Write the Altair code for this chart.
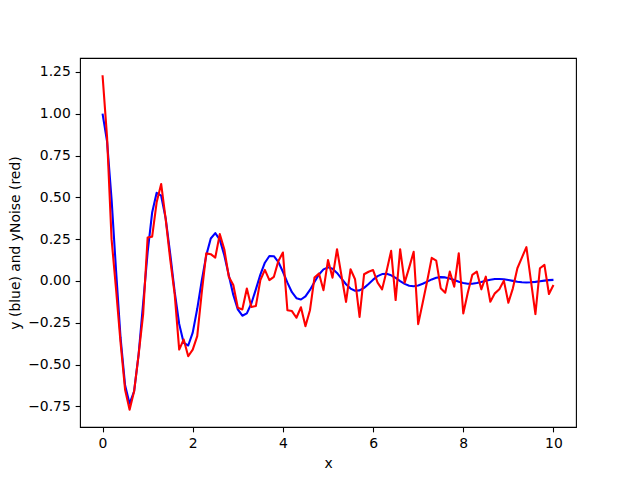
import altair as alt
import pandas as pd

x_values = [
    0.0, 0.1, 0.2, 0.3, 0.4, 0.5, 0.6, 0.7, 0.8, 0.9,
    1.0, 1.1, 1.2, 1.3, 1.4, 1.5, 1.6, 1.7, 1.8, 1.9,
    2.0, 2.1, 2.2, 2.3, 2.4, 2.5, 2.6, 2.7, 2.8, 2.9,
    3.0, 3.1, 3.2, 3.3, 3.4, 3.5, 3.6, 3.7, 3.8, 3.9,
    4.0, 4.1, 4.2, 4.3, 4.4, 4.5, 4.6, 4.7, 4.8, 4.9,
    5.0, 5.1, 5.2, 5.3, 5.4, 5.5, 5.6, 5.7, 5.8, 5.9,
    6.0, 6.1, 6.2, 6.3, 6.4, 6.5, 6.6, 6.7, 6.8, 6.9,
    7.0, 7.1, 7.2, 7.3, 7.4, 7.5, 7.6, 7.7, 7.8, 7.9,
    8.0, 8.1, 8.2, 8.3, 8.4, 8.5, 8.6, 8.7, 8.8, 8.9,
    9.0, 9.1, 9.2, 9.3, 9.4, 9.5, 9.6, 9.7, 9.8, 9.9,
    10.0,
]

y_blue = [
    1.0, 0.8348, 0.4889, 0.0609, -0.3407, -0.6239, -0.7334, -0.6600, -0.4381, -0.1344,
    0.1720, 0.4089, 0.5269, 0.5098, 0.3744, 0.1637, -0.0654, -0.2573, -0.3704, -0.3856,
    -0.3087, -0.1664, 0.0015, 0.1530, 0.2542, 0.2859, 0.2473, 0.1542, 0.0337, -0.0833,
    -0.1695, -0.2077, -0.1934, -0.1349, -0.0503, 0.0381, 0.1092, 0.1494, 0.1479, 0.1132,
    0.0552, -0.0102, -0.0671, -0.1027, -0.1108, -0.0920, -0.0534, -0.0059, 0.0385, 0.0696,
    0.0814, 0.0729, 0.0481, 0.0143, -0.0196, -0.0457, -0.0585, -0.0564, -0.0411, -0.0176,
    0.0077, 0.0289, 0.0412, 0.0427, 0.0340, 0.0181, -0.0005, -0.0172, -0.0283, -0.0317,
    -0.0273, -0.0169, -0.0035, 0.0094, 0.0189, 0.0231, 0.0214, 0.0148, 0.0054, -0.0044,
    -0.0122, -0.0164, -0.0164, -0.0125, -0.0060, 0.0013, 0.0075, 0.0114, 0.0123, 0.0102,
    0.0058, 0.0006, -0.0044, -0.0078, -0.0090, -0.0081, -0.0053, -0.0015, 0.0022, 0.0051,
    0.0065,
]

y_red = [
    1.23, 0.86, 0.25, -0.05, -0.37, -0.65, -0.77, -0.66, -0.44, -0.20,
    0.26, 0.265, 0.47, 0.58, 0.37, 0.13, -0.08, -0.41, -0.35, -0.45,
    -0.41, -0.33, -0.07, 0.165, 0.16, 0.14, 0.28, 0.19, 0.025, -0.024,
    -0.16, -0.17, -0.045, -0.155, -0.15, 0.005, 0.066, 0.005, 0.025, 0.12,
    0.17, -0.175, -0.18, -0.22, -0.157, -0.27, -0.175, 0.02, 0.045, -0.055,
    0.125, 0.02, 0.19, 0.03, -0.125, 0.07, 0.01, -0.215, 0.04, 0.055,
    0.065, -0.01, -0.05, 0.06, 0.18, -0.114, 0.19, -0.01, 0.08, 0.175,
    -0.258, -0.13, 0.0, 0.138, 0.122, -0.043, -0.07, 0.056, -0.034, 0.166,
    -0.194, -0.07, 0.036, 0.056, -0.05, 0.026, -0.124, -0.074, -0.05, 0.002,
    -0.13, -0.044, 0.076, 0.14, 0.202, 0.002, -0.198, 0.076, 0.096, -0.078,
    -0.024,
]

x_ticks = [0, 2, 4, 6, 8, 10]
y_ticks = [-0.75, -0.5, -0.25, 0.0, 0.25, 0.5, 0.75, 1.0, 1.25]

df = pd.DataFrame({"x": x_values, "y": y_blue, "yNoise": y_red})

FONT = "DejaVu Sans"
xscale = alt.Scale(domain=[-0.5, 10.5], nice=False, zero=False)
yscale = alt.Scale(domain=[-0.873, 1.333], nice=False, zero=False)

xaxis = alt.Axis(values=x_ticks, format="d", title="x", grid=False)
yaxis = alt.Axis(values=y_ticks, format=".2f", title="y (blue) and yNoise (red)", grid=False)

blue = alt.Chart(df).mark_line(color="#0000ff", strokeWidth=2.08, strokeJoin="round").encode(
    x=alt.X("x:Q", scale=xscale, axis=xaxis),
    y=alt.Y("y:Q", scale=yscale, axis=yaxis),
)
red = alt.Chart(df).mark_line(color="#ff0000", strokeWidth=2.08, strokeJoin="round").encode(
    x=alt.X("x:Q", scale=xscale, axis=xaxis),
    y=alt.Y("yNoise:Q", scale=yscale, axis=yaxis),
)

chart = (
    alt.layer(blue, red)
    .properties(
        width=496,
        height=369,
        autosize=alt.AutoSizeParams(type="none"),
        padding={"left": 72, "top": 50, "right": 56, "bottom": 45},
        background="white",
    )
    .configure_view(stroke="black", strokeWidth=1.1)
    .configure_axis(
        domain=False,
        labelFont=FONT,
        titleFont=FONT,
        labelFontSize=13.9,
        titleFontSize=13.9,
        titleFontWeight="normal",
        labelColor="black",
        titleColor="black",
        tickColor="black",
        tickSize=4.86,
        tickWidth=1.1,
        labelPadding=4.86,
        titlePadding=5.5,
    )
)

chart.save("out.html", embed_options={"renderer": "svg", "actions": False})
